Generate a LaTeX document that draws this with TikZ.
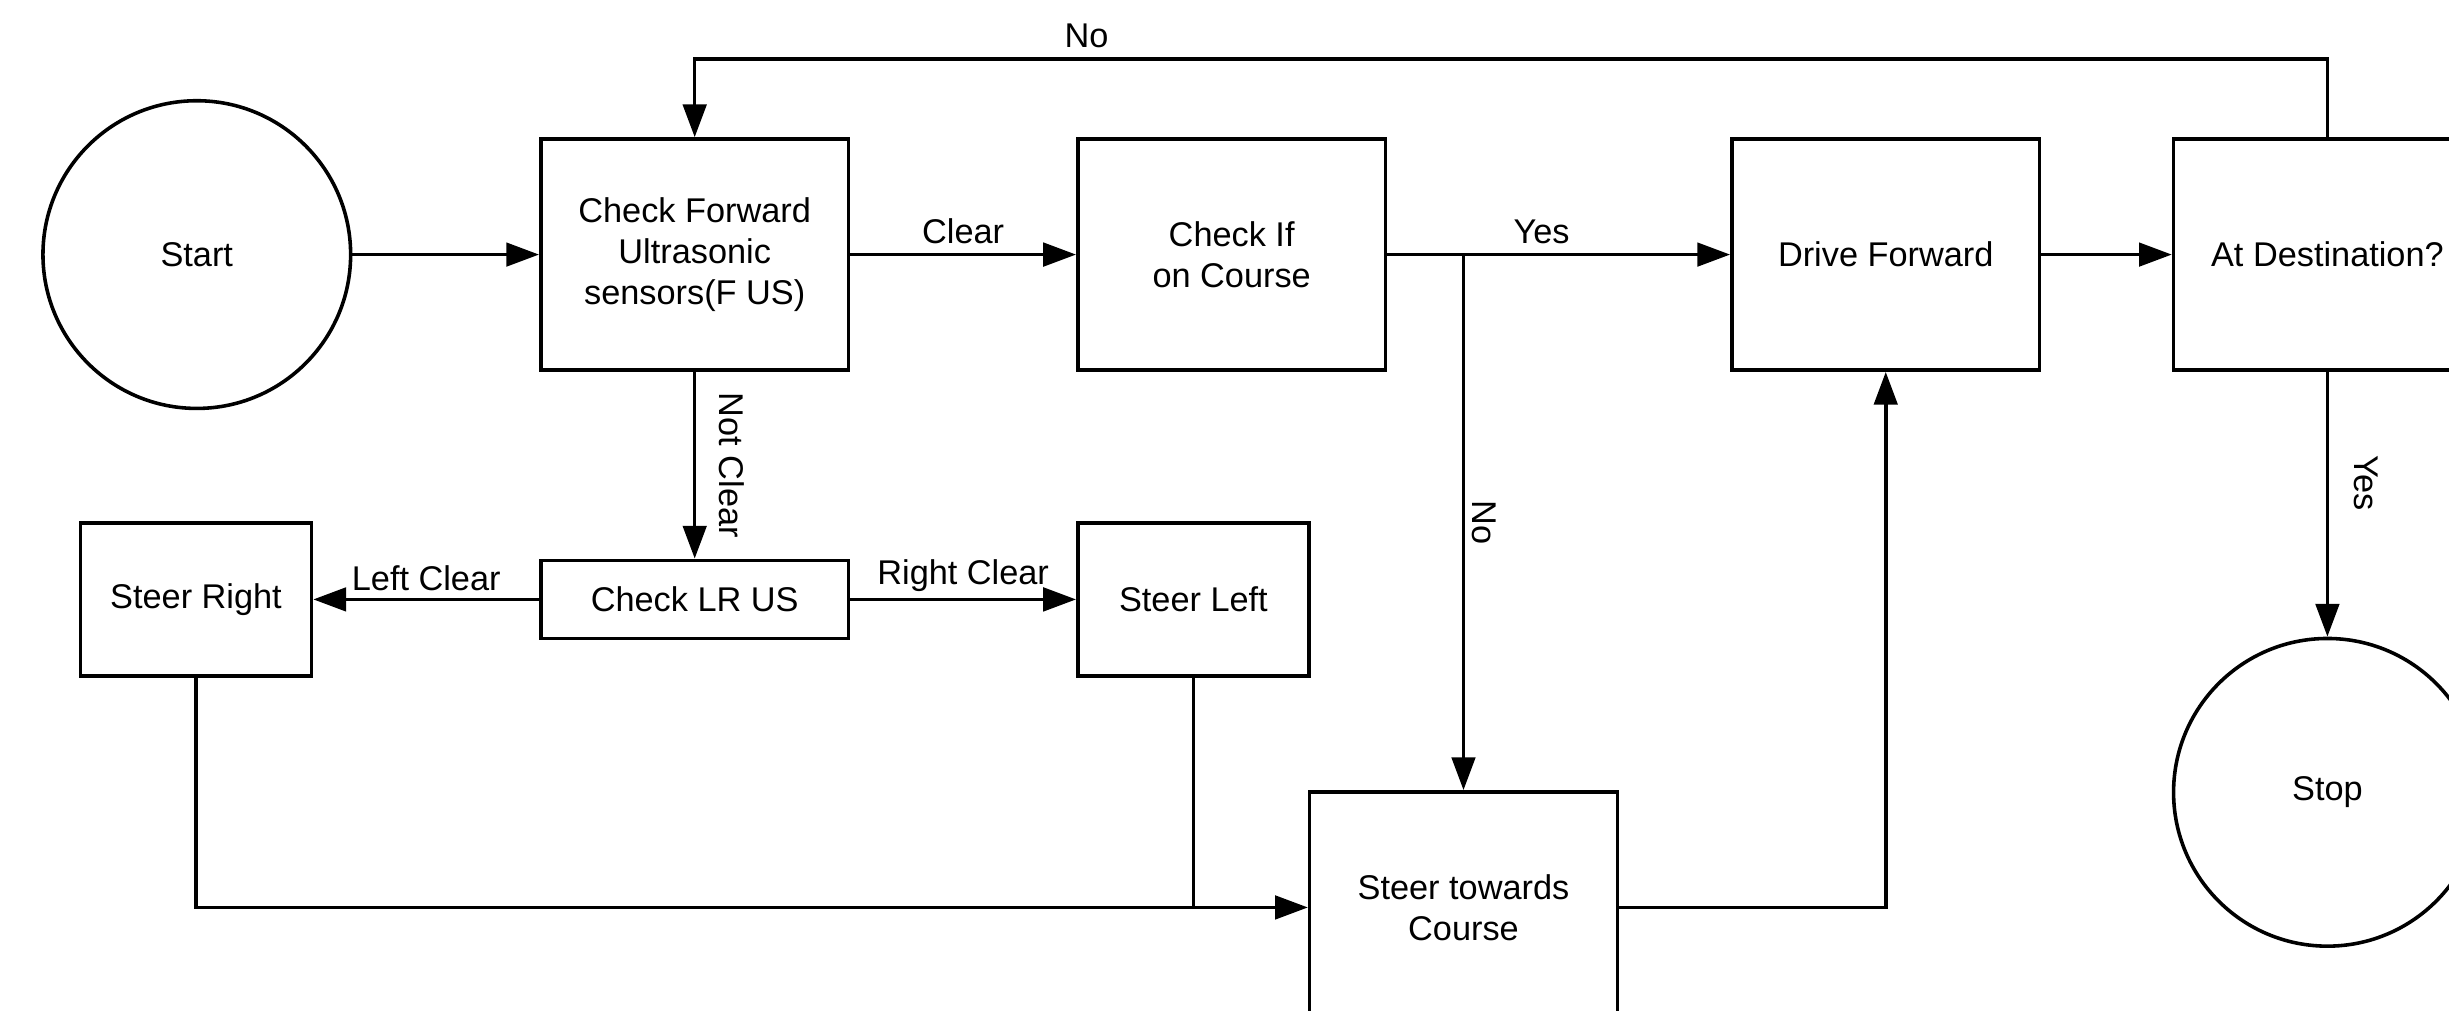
\documentclass[tikz,border=0pt]{standalone}
\usepackage{fontspec}
\setmainfont{Liberation Sans}
\usepackage{tikz}
\usetikzlibrary{arrows.meta,positioning}

\begin{document}
\begin{tikzpicture}[node distance=2.39cm,
  every node/.style={font=\fontsize{12.5pt}{15pt}\selectfont},
  box/.style={draw,line width=1.3pt,minimum width=3.94cm,minimum height=2.96cm,align=center,inner sep=2pt},
  smallbox/.style={box,minimum width=2.96cm,minimum height=1.96cm},
  term/.style={draw,line width=1.3pt,circle,minimum size=3.94cm,inner sep=0pt},
  flow/.style={line width=1.3pt,-{Triangle[length=0.42cm,width=0.3cm]}},
  wire/.style={line width=1.3pt}]
\useasboundingbox (0,0) rectangle (31.36,-12.94);
\clip (0,0) rectangle (31.36,-12.94);
% top row
\node[term] (start) at (2.52,-3.26) {Start};
\node[box,right=2.39cm of start] (chkfwd) {Check Forward\\Ultrasonic\\sensors(F US)};
\node[box,right=2.89cm of chkfwd] (chkcrs) {Check If\\on Course};
\node[box,right=4.39cm of chkcrs] (drive) {Drive Forward};
\node[box,right=1.67cm of drive] (atdest) {At Destination?};
\node[term,below=3.39cm of atdest] (stop) {Stop};
% second row
\node[box,minimum height=1cm,below=of chkfwd] (chklr) {Check LR US};
\node[smallbox,left=2.89cm of chklr] (stright) {Steer Right};
\node[smallbox,right=2.89cm of chklr] (stleft) {Steer Left};
\node[box] (steercrs) at (18.74,-11.62) {Steer towards\\Course};
\coordinate (split) at (chkcrs.east -| steercrs.north);

\draw[flow] (start) -- (chkfwd);
\draw[flow] (chkfwd) -- node[above]{Clear} (chkcrs);
\draw[flow] (chkcrs) -- node[above,pos=0.45]{Yes} (drive);
\draw[flow] (split) -- node[xshift=0.26cm,rotate=-90]{No} (steercrs);
\draw[flow] (drive) -- (atdest);
\draw[flow] (atdest.north) -- ++(0,1) -| node[pos=0.38,above]{No} (chkfwd.north);
\draw[flow] (atdest) -- node[pos=0.42,xshift=0.5cm,rotate=-90]{Yes} (stop);
\draw[flow] (chkfwd) -- node[xshift=0.48cm,rotate=-90]{Not Clear} (chklr);
\draw[flow] (chklr) -- node[above=-1pt]{Left Clear} (stright);
\draw[flow] (chklr) -- node[above=-1pt]{Right Clear} (stleft);
\draw[flow] (stright.south) |- (steercrs.west);
\draw[wire] (stleft.south) -- (stleft.south |- steercrs.west);
\draw[flow] (steercrs.east) -| (drive.south);
\end{tikzpicture}
\end{document}
